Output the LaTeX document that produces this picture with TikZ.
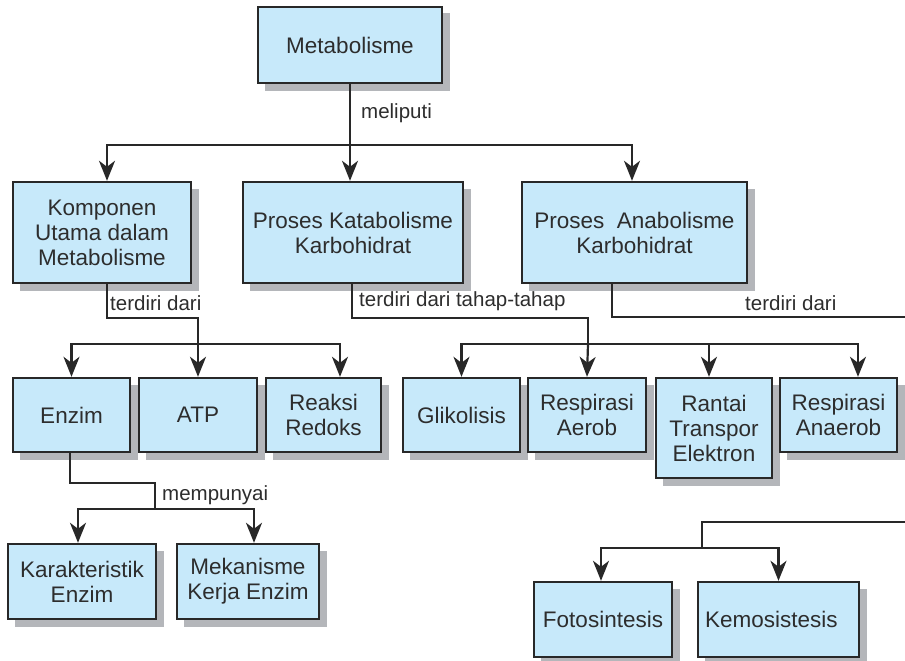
\documentclass[tikz,border=0pt]{standalone}
\usepackage{fontspec}
\setmainfont{Liberation Sans}
\usetikzlibrary{arrows.meta}
\definecolor{boxfill}{RGB}{199,233,250}
\definecolor{boxline}{RGB}{40,40,40}
\definecolor{shadowgray}{RGB}{180,182,186}
\definecolor{textcol}{RGB}{45,45,45}
% #1 extra options, #2 name, #3 cx, #4 cy, #5 width, #6 height, #7 text
\newcommand{\shbox}[7][]{%
  \fill[shadowgray, shift={(#3,#4)}] (-#5/2+6.5, -#6/2+6.5) rectangle (#5/2+8, #6/2+8);
  \node[box, minimum width=#5pt, minimum height=#6pt, #1] (#2) at (#3,#4) {#7};
}
\begin{document}
\begin{tikzpicture}[x=1pt,y=-1pt,
  box/.style={draw=boxline, line width=2.4pt, fill=boxfill,
    align=center, font=\fontsize{22.5}{25}\selectfont, text=textcol, inner sep=2pt},
  lbl/.style={font=\fontsize{20.5}{24}\selectfont, text=textcol, inner sep=0pt, anchor=west},
  conn/.style={draw=boxline, line width=2.2pt},
  arr/.style={conn, -{Stealth[length=20pt,width=16pt,inset=6pt]}}]

\useasboundingbox (0,0) rectangle (905,661);

% boxes
\shbox{meta}{350}{45}{184}{76}{Metabolisme}
\shbox{komp}{102}{232.5}{178}{101}{Komponen\\Utama dalam\\Metabolisme}
\shbox{kata}{353}{232.5}{220}{101}{Proses Katabolisme\\Karbohidrat}
\shbox{ana}{634.5}{232.5}{225}{101}{Proses\ \ Anabolisme\\Karbohidrat}

\shbox{enzim}{71.5}{415}{117}{74}{Enzim}
\shbox{atp}{198}{415}{118}{74}{ATP}
\shbox{redoks}{323.5}{415}{115}{74}{Reaksi\\Redoks}

\shbox{glik}{461.5}{415}{117}{74}{Glikolisis}
\shbox{aerob}{587}{415}{118}{74}{Respirasi\\Aerob}
\shbox{rantai}{714}{428}{116}{100}{Rantai\\Transpor\\Elektron}
\shbox{anaerob}{838.5}{415}{117}{74}{Respirasi\\Anaerob}

\shbox{karak}{82}{581.5}{148}{75}{Karakteristik\\Enzim}
\shbox{mekan}{248}{581.5}{142}{75}{Mekanisme\\Kerja Enzim}

\shbox{foto}{603}{619.5}{138}{75}{Fotosintesis}
\shbox[text width=147pt, align=left]{kemo}{778.5}{619.5}{161}{75}{Kemosistesis\\[-2pt]}

% bus coordinates
\coordinate (b1) at (350,145);
\coordinate (b2) at (198,344);
\coordinate (b3) at (588,344);
\coordinate (b4) at (155,509);
\coordinate (b5) at (702,548);
\coordinate (e1) at (905,317);
\coordinate (e2) at (905,522);

% Metabolisme
\draw[conn] (meta.south) -- (b1);
\draw[arr] (b1) -| ([xshift=5pt]komp.north);
\draw[arr] (b1) -| ([xshift=-3pt]kata.north);
\draw[arr] (b1) -| ([xshift=-2.5pt]ana.north);

% Komponen
\draw[conn] ([xshift=5pt]komp.south) -- ++(0,34) -| (b2);
\draw[arr] (b2) -| (enzim.north);
\draw[arr] (b2) -- (atp.north);
\draw[arr] (b2) -| ([xshift=16.5pt]redoks.north);

% Katabolisme
\draw[conn] ([xshift=-1pt]kata.south) -- ++(0,34) -| (b3);
\draw[arr] (b3) -| (glik.north);
\draw[arr] (b3) -- (aerob.north);
\draw[arr] (b3) -| ([xshift=-5pt]rantai.north);
\draw[arr] (b3) -| ([xshift=19.5pt]anaerob.north);

% Anabolisme
\draw[conn] ([xshift=-22.5pt]ana.south) |- (e1);
\draw[conn] (e2) -| (b5);
\draw[arr] (b5) -| ([xshift=-2pt]foto.north);
\draw[arr] (b5) -| (kemo.north);

% Enzim
\draw[conn] ([xshift=-1.5pt]enzim.south) -- ++(0,30) -| (b4);
\draw[arr] (b4) -| ([xshift=-4pt]karak.north);
\draw[arr] (b4) -| ([xshift=6pt]mekan.north);

% labels
\node[lbl] (l1) at (361,113) {meliputi};
\node[lbl] (l2) at (110,303) {terdiri dari};
\node[lbl] (l3) at (359,301) {terdiri dari tahap-tahap};
\node[lbl] (l4) at (745,303) {terdiri dari};
\node[lbl] (l5) at (162,495) {mempunyai};
\end{tikzpicture}
\end{document}
